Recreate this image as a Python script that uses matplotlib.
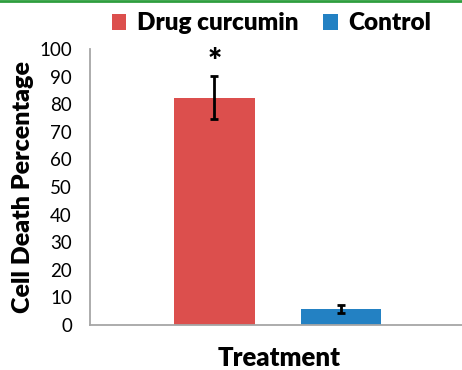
import matplotlib.pyplot as plt
from matplotlib.lines import Line2D

# data
series = ["Drug curcumin", "Control"]
values = [82.3, 5.7]
errors = [7.8, 1.5]
colors = ["#DC4F4D", "#2381C3"]
y_ticks = [0, 10, 20, 30, 40, 50, 60, 70, 80, 90, 100]

plt.rcParams["font.family"] = ["Lato", "DejaVu Sans"]
heavy = "heavy"

fig = plt.figure(figsize=(4.62, 3.70), dpi=100)
ax = fig.add_axes([90 / 462, 45 / 370, 375 / 462, 276 / 370])

positions = list(range(len(series)))
for pos, val, err, col, name in zip(positions, values, errors, colors, series):
    ax.bar(pos, val, width=0.64, color=col, label=name, zorder=2)
    ax.errorbar(pos, val, yerr=err, fmt="none", ecolor="black",
                elinewidth=2, capsize=3, capthick=2, zorder=3)

# significance marker above the treated bar
ax.text(positions[0], values[0] + errors[0] - 1, "*", ha="center", va="bottom",
        fontsize=24, fontweight=heavy)

ax.set_xlim(-0.984, 1.98)
ax.set_ylim(0, 100)
ax.set_yticks(y_ticks)
ax.set_xticks([])
ax.tick_params(axis="y", length=0, labelsize=13.5, pad=13)

for side in ["top", "right"]:
    ax.spines[side].set_visible(False)
for side in ["left", "bottom"]:
    ax.spines[side].set_color("#A6A6A6")
    ax.spines[side].set_linewidth(1.3)

ax.set_ylabel("Cell Death Percentage", fontsize=18, fontweight=heavy, labelpad=4)
fig.text(279 / 462, 1 - 358 / 370, "Treatment", ha="center", va="center",
         fontsize=18.5, fontweight=heavy)

ax.legend(loc="lower center", bbox_to_anchor=(0.5 - 6 / 375, 1.0), ncol=2,
          frameon=False, prop={"weight": heavy, "size": 17.5},
          handlelength=0.6, handleheight=0.6, handletextpad=0.45,
          columnspacing=1.0, borderaxespad=0.2)

# green rule across the top edge of the image
fig.add_artist(Line2D([0, 1], [0.997, 0.997], transform=fig.transFigure,
                      color="#2E9E3E", linewidth=2))

fig.savefig("out.png", dpi=100)
